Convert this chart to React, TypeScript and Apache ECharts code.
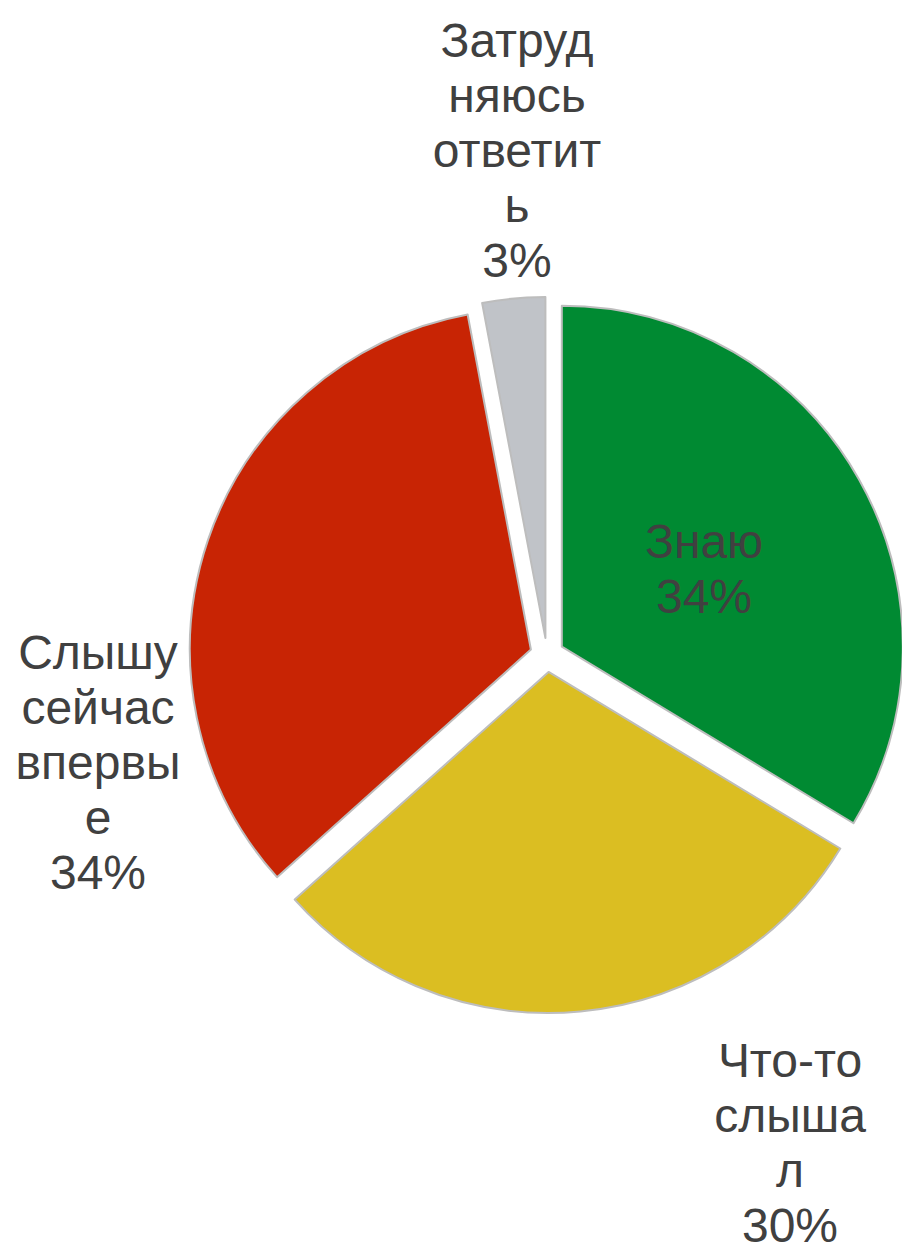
import React, { useEffect, useRef } from "react";
import * as echarts from "echarts";

const categories = ["Знаю", "Что-то слышал", "Слышу сейчас впервые", "Затрудняюсь ответить"];
const values = [34, 30, 34, 3];
const labelText = ["Знаю", "Что-то\nслыша\nл", "Слышу\nсейчас\nвпервы\nе", "Затруд\nняюсь\nответит\nь"];
const colors = ["#008A32", "#DBBE22", "#C82404", "#C0C3C8"];
// label anchor positions (layout, not data)
const labelAnchors: [number, number][] = [
  [704, 569],
  [790, 1143],
  [98, 762],
  [517, 150],
];

export default function App() {
  const ref = useRef<HTMLDivElement>(null);
  useEffect(() => {
    if (!ref.current) return;
    const chart = echarts.init(ref.current, null, { renderer: "svg" });
    const itemStyle = { borderColor: "#BDBDBD", borderWidth: 2 };
    const base = {
      type: "pie",
      center: [547, 655],
      radius: [0, 341],
      startAngle: 90,
      clockwise: true,
      avoidLabelOverlap: false,
      emphasis: { disabled: true },
    };
    chart.setOption({
      animation: false,
      backgroundColor: "#ffffff",
      series: [
        {
          ...base,
          selectedMode: "multiple",
          selectedOffset: 17,
          select: { itemStyle },
          itemStyle,
          label: { show: false },
          labelLine: { show: false },
          data: categories.map((name, i) => ({
            name,
            value: values[i],
            selected: true,
            itemStyle: { color: colors[i] },
          })),
        },
        {
          ...base,
          silent: true,
          selectedMode: false,
          itemStyle: { color: "rgba(0,0,0,0)", borderWidth: 0 },
          label: {
            show: true,
            position: "outside",
            color: "#404040",
            fontFamily: "Liberation Sans, Arial, sans-serif",
            fontSize: 48,
            lineHeight: 55,
            align: "center",
            formatter: (p: any) => labelText[p.dataIndex] + "\n" + p.value + "%",
          },
          labelLine: { show: false },
          labelLayout: (p: any) => {
            const a = labelAnchors[p.dataIndex];
            return { x: a[0], y: a[1], align: "center", verticalAlign: "middle" };
          },
          data: categories.map((name, i) => ({ name, value: values[i] })),
        },
      ],
    });
    return () => chart.dispose();
  }, []);
  return (
    <div
      ref={ref}
      style={{ position: "absolute", left: 0, top: 0, width: 902, height: 1244, background: "#fff" }}
    />
  );
}
